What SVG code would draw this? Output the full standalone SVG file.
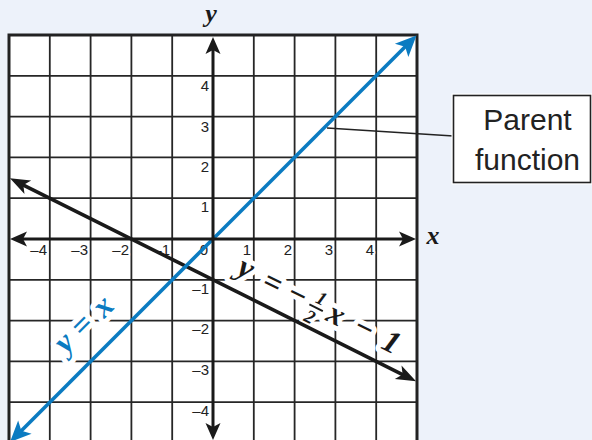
<svg xmlns="http://www.w3.org/2000/svg" width="592" height="440" viewBox="0 0 592 440">
  <style>
    .grid line { stroke: #262626; stroke-width: 1.8; }
    .tick { font-family: "Liberation Sans", Arial, sans-serif; font-size: 15px; text-anchor: end; }
    .tick-halo { fill: #fff; stroke: #fff; stroke-width: 3; stroke-linejoin: round; }
    .tick-fill { fill: #222; }
    .math { font-family: "Liberation Serif", "Times New Roman", serif; font-style: italic; font-weight: bold; }
    .eq { font-size: 32px; text-anchor: middle; }
    .frac { font-size: 19px; text-anchor: middle; }
    .halo text { fill: #fff; stroke: #fff; stroke-width: 10; stroke-linejoin: round; }
    .halo .frac { stroke-width: 7; }
    .axisname { font-size: 26px; fill: #1a1a1a; text-anchor: middle; }
    .box-text { font-family: "Liberation Sans", Arial, sans-serif; font-size: 30px; fill: #222; text-anchor: middle; }
  </style>
  <defs>
    <marker id="arrAxis" markerUnits="userSpaceOnUse" markerWidth="40" markerHeight="40" refX="0" refY="0" orient="auto-start-reverse" overflow="visible">
      <path d="M10,0 L-7,-7.5 L-3,0 L-7,7.5 Z" fill="#1a1a1a"/>
    </marker>
    <marker id="arrFunc" markerUnits="userSpaceOnUse" markerWidth="40" markerHeight="40" refX="0" refY="0" orient="auto-start-reverse" overflow="visible">
      <path d="M10,0 L-10,-7.5 L-5,0 L-10,7.5 Z" fill="#1a1a1a"/>
    </marker>
    <marker id="arrBlue" markerUnits="userSpaceOnUse" markerWidth="40" markerHeight="40" refX="0" refY="0" orient="auto-start-reverse" overflow="visible">
      <path d="M10,0 L-11,-9.5 L-6,0 L-11,9.5 Z" fill="#0b7bc1"/>
    </marker>
  </defs>

  <rect id="background" x="0" y="0" width="592" height="440" fill="#edf2fa"/>

  <g id="grid" class="grid">
    <rect x="9" y="35" width="408" height="410" fill="#fff" stroke="none"/>
    <line x1="49.8" y1="35" x2="49.8" y2="440"/>
    <line x1="90.6" y1="35" x2="90.6" y2="440"/>
    <line x1="131.4" y1="35" x2="131.4" y2="440"/>
    <line x1="172.2" y1="35" x2="172.2" y2="440"/>
    <line x1="253.8" y1="35" x2="253.8" y2="440"/>
    <line x1="294.6" y1="35" x2="294.6" y2="440"/>
    <line x1="335.4" y1="35" x2="335.4" y2="440"/>
    <line x1="376.2" y1="35" x2="376.2" y2="440"/>
    <line x1="9" y1="75.8" x2="417" y2="75.8"/>
    <line x1="9" y1="116.6" x2="417" y2="116.6"/>
    <line x1="9" y1="157.4" x2="417" y2="157.4"/>
    <line x1="9" y1="198.2" x2="417" y2="198.2"/>
    <line x1="9" y1="279.8" x2="417" y2="279.8"/>
    <line x1="9" y1="320.6" x2="417" y2="320.6"/>
    <line x1="9" y1="361.4" x2="417" y2="361.4"/>
    <line x1="9" y1="402.2" x2="417" y2="402.2"/>
    <path d="M9,440 V35 H417 V440" fill="none" stroke="#222" stroke-width="3"/>
  </g>

  <g id="tick-labels" class="tick">
    <g class="tick-halo">
      <text x="47" y="255">–4</text><text x="88" y="255">–3</text><text x="129" y="255">–2</text><text x="170" y="255">–1</text>
      <text x="208" y="255">0</text><text x="251" y="255">1</text><text x="292" y="255">2</text><text x="333" y="255">3</text><text x="374" y="255">4</text>
      <text x="209" y="91">4</text><text x="209" y="132">3</text><text x="209" y="172">2</text><text x="209" y="212">1</text>
      <text x="209" y="294">–1</text><text x="209" y="334">–2</text><text x="209" y="375">–3</text><text x="209" y="416">–4</text>
    </g>
    <g class="tick-fill">
      <text x="47" y="255">–4</text><text x="88" y="255">–3</text><text x="129" y="255">–2</text><text x="170" y="255">–1</text>
      <text x="208" y="255">0</text><text x="251" y="255">1</text><text x="292" y="255">2</text><text x="333" y="255">3</text><text x="374" y="255">4</text>
      <text x="209" y="91">4</text><text x="209" y="132">3</text><text x="209" y="172">2</text><text x="209" y="212">1</text>
      <text x="209" y="294">–1</text><text x="209" y="334">–2</text><text x="209" y="375">–3</text><text x="209" y="416">–4</text>
    </g>
  </g>

  <g id="label-parent-line" class="math">
    <g transform="translate(68.3,346.7) rotate(-45)">
      <g class="halo">
        <text class="eq" x="0" y="4">y</text>
        <text class="eq" x="25" y="4.5">=</text>
        <text class="eq" x="53" y="6">x</text>
      </g>
      <g fill="#0b7bc1">
        <text class="eq" x="0" y="4">y</text>
        <text class="eq" x="25" y="4.5">=</text>
        <text class="eq" x="53" y="6">x</text>
      </g>
    </g>
  </g>

  <g id="label-transformed-line" class="math">
    <g transform="translate(243.3,273.3) rotate(26.57)">
      <g class="halo">
        <text class="eq" x="0" y="4">y</text>
        <text class="eq" x="30.6" y="5.5">=</text>
        <text class="eq" x="58" y="5">−</text>
        <text class="frac" x="81.3" y="-6.2">1</text>
        <text class="frac" x="79" y="15.5">2</text>
        <text class="eq" x="101.4" y="5.2">x</text>
        <text class="eq" x="132.6" y="5">−</text>
        <text class="eq" x="163.3" y="5.7">1</text>
      </g>
      <g fill="#1a1a1a">
        <text class="eq" x="0" y="4">y</text>
        <text class="eq" x="30.6" y="5.5">=</text>
        <text class="eq" x="58" y="5">−</text>
        <text class="frac" x="81.3" y="-6.2">1</text>
        <line x1="73" y1="-1.8" x2="88" y2="-1.8" stroke="#1a1a1a" stroke-width="2"/>
        <text class="frac" x="79" y="15.5">2</text>
        <text class="eq" x="101.4" y="5.2">x</text>
        <text class="eq" x="132.6" y="5">−</text>
        <text class="eq" x="163.3" y="5.7">1</text>
      </g>
    </g>
  </g>

  <g id="plots">
    <line id="line-transformed" x1="18.9" y1="182.8" x2="407.1" y2="376.8" stroke="#1a1a1a" stroke-width="3.6" marker-start="url(#arrFunc)" marker-end="url(#arrFunc)"/>
    <line id="line-parent" x1="17.1" y1="434.9" x2="409.4" y2="42.6" stroke="#0b7bc1" stroke-width="3.6" marker-start="url(#arrBlue)" marker-end="url(#arrBlue)"/>
  </g>

  <g id="axes">
    <line x1="20" y1="239" x2="406" y2="239" stroke="#1a1a1a" stroke-width="3" marker-start="url(#arrAxis)" marker-end="url(#arrAxis)"/>
    <line x1="213" y1="47" x2="213" y2="430" stroke="#1a1a1a" stroke-width="3" marker-start="url(#arrAxis)" marker-end="url(#arrAxis)"/>
    <text class="math axisname" x="211" y="22">y</text>
    <text class="math axisname" x="433" y="244">x</text>
  </g>

  <g id="connectors">
    <line x1="327" y1="128" x2="453.5" y2="136" stroke="#222" stroke-width="1.5"/>
  </g>

  <g id="parent-function">
    <rect x="451.5" y="93.5" width="141" height="91" fill="#fff"/>
    <rect x="453.5" y="95.5" width="137" height="87" fill="#fff" stroke="#222" stroke-width="1.6"/>
    <text class="box-text" x="527.5" y="130">Parent</text>
    <text class="box-text" x="527.5" y="170">function</text>
  </g>
</svg>
